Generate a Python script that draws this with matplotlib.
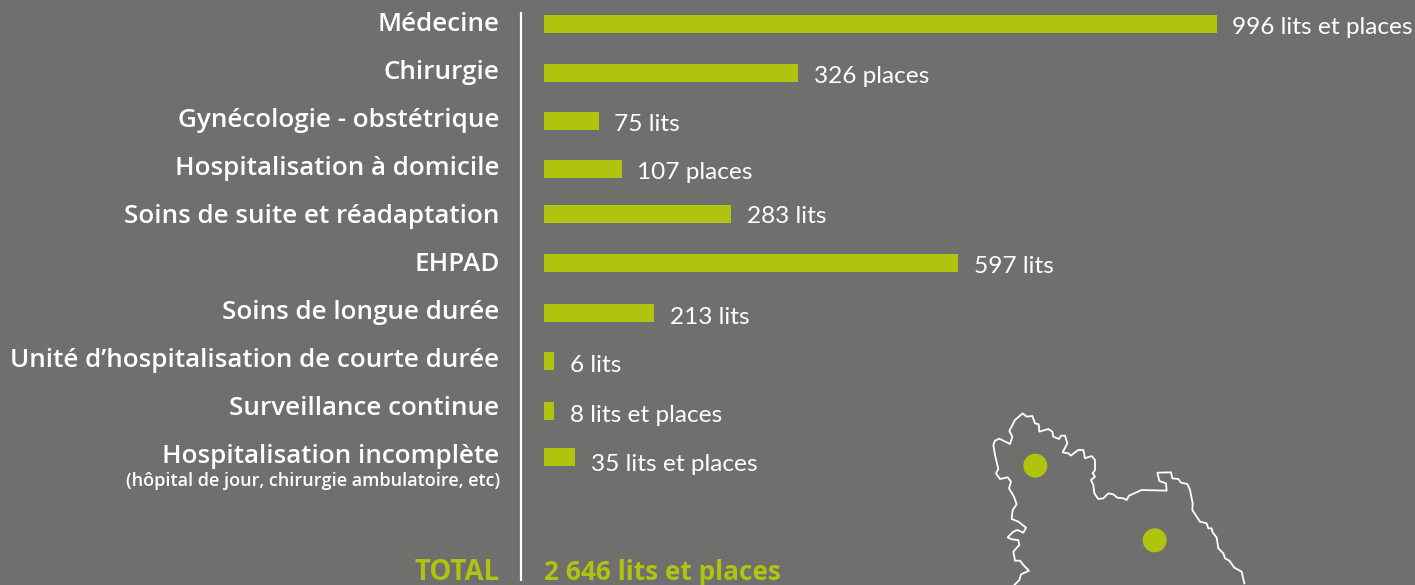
import matplotlib
matplotlib.use('Agg')
import matplotlib.pyplot as plt
from matplotlib.patches import Circle

BG = '#6f6f6e'
GREEN = '#afc30f'
FONT = 'Lato'
LABEL_FONT = 'Open Sans'

categories = ['Médecine', 'Chirurgie', 'Gynécologie - obstétrique', 'Hospitalisation à domicile',
              'Soins de suite et réadaptation', 'EHPAD', 'Soins de longue durée',
              'Unité d’hospitalisation de courte durée', 'Surveillance continue',
              'Hospitalisation incomplète']
value_labels = ['996 lits et places', '326 places', '75 lits', '107 places', '283 lits',
                '597 lits', '213 lits', '6 lits', '8 lits et places', '35 lits et places']
# bars in the original are not to scale, so these are the lengths as drawn
drawn_values = [996, 376, 81, 115, 277, 613, 163, 15, 15, 46]
bar_rows = [24, 73, 121, 169, 214, 263, 313, 361, 411, 457]
# text baselines
label_rows = [31, 79, 127, 175, 223, 271, 319, 367, 415, 463]
value_rows = [34, 83, 131, 179, 223, 273, 324, 372, 422, 471]

map_x = [163, 178, 183, 207, 190, 180, 165, 160, 178, 175, 155, 143, 160, 172, 190, 198, 175, 155, 158, 170,
         162, 147, 153, 143, 120, 108, 115, 105, 100, 105, 118, 150, 157, 148, 165, 188, 200, 217, 225, 236,
         238, 255, 265, 277, 280, 297, 303, 315, 322, 308, 325, 332, 355, 370, 375, 395, 405, 405, 398, 405,
         393, 400, 403, 415, 430, 445, 460, 472, 490, 500, 507, 545, 620, 618, 598, 592, 633, 637, 655, 663,
         682, 690, 698, 697, 720, 740, 745, 755, 758, 770, 775, 790, 795, 808, 823, 845, 853]
map_y = [570, 555, 538, 527, 510, 497, 497, 470, 450, 435, 433, 427, 410, 405, 413, 398, 380, 372, 345, 328,
         305, 280, 260, 247, 252, 235, 222, 180, 150, 137, 131, 147, 125, 108, 75, 55, 65, 63, 85, 88,
         110, 105, 102, 110, 125, 132, 122, 122, 145, 172, 175, 182, 165, 165, 190, 183, 195, 225, 235, 245,
         255, 270, 295, 312, 310, 295, 298, 308, 310, 315, 302, 285, 287, 265, 258, 233, 232, 250, 252, 263,
         267, 285, 325, 345, 380, 385, 400, 400, 412, 428, 460, 475, 490, 497, 518, 530, 565]
towns_x = [226, 584]
towns_y = [212, 436]

W, H = 1415, 585
fig = plt.figure(figsize=(W / 100, H / 100), dpi=100, facecolor=BG)

# page axes in pixels, for text and the divider
page = fig.add_axes([0, 0, 1, 1])
page.set_xlim(0, W)
page.set_ylim(H, 0)
page.axis('off')

# bar axes: 0 to 996 runs from x=544 to x=1217
ax = fig.add_axes([544 / W, 0, (1217 - 544) / W, 1])
ax.set_xlim(0, 996)
ax.set_ylim(H, 0)
ax.axis('off')
ax.barh(bar_rows, drawn_values, height=18.5, color=GREEN)

page.plot([521, 521], [12, 581], color='white', lw=1.6, solid_capstyle='butt')

for name, y in zip(categories, label_rows):
    page.text(499.5, y, name, ha='right', va='baseline', color='white', family=LABEL_FONT,
              weight='semibold', fontsize=18.7)
page.text(500, 486, '(hôpital de jour, chirurgie ambulatoire, etc)', ha='right', va='baseline',
          color='white', family=LABEL_FONT, weight='semibold', fontsize=13)

for i in range(len(value_labels)):
    x_end = 544 + drawn_values[i] * 673 / 996
    page.text(x_end + 15.5, value_rows[i], value_labels[i], ha='left', va='baseline', color='white',
              family=FONT, fontsize=17.6)

page.text(500, 580, 'TOTAL', ha='right', va='baseline', color=GREEN, family=LABEL_FONT, weight='bold', fontsize=19.8)
page.text(544, 580, '2 646 lits et places', ha='left', va='baseline', color=GREEN, family=LABEL_FONT,
          weight='bold', fontsize=18.9)

# map crop: 3 units per pixel
m = fig.add_axes([960 / W, 0, 320 / W, 190 / H])
m.set_xlim(0, 960)
m.set_ylim(570, 0)
m.axis('off')
m.plot(map_x, map_y, color='white', lw=1.3, solid_joinstyle='round')
for x, y in zip(towns_x, towns_y):
    m.add_patch(Circle((x, y), 36, color=GREEN, lw=0))

fig.savefig('out.png', dpi=100, facecolor=BG)
